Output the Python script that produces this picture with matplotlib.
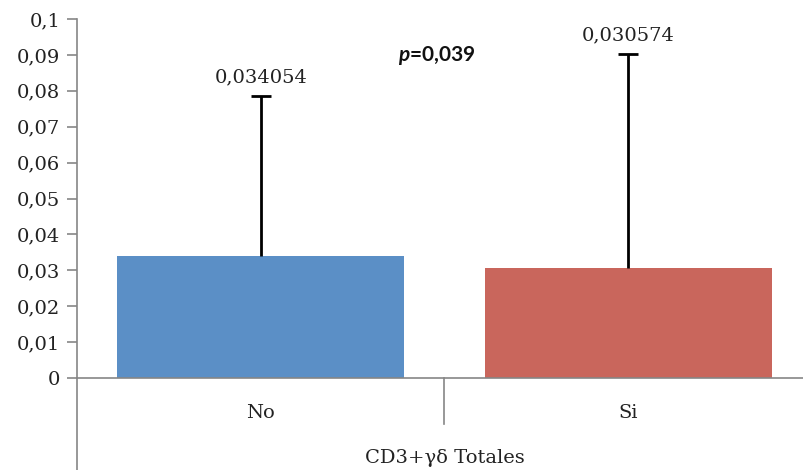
import matplotlib.pyplot as plt
from matplotlib.ticker import FuncFormatter
import matplotlib.transforms as mtransforms

categories = ["No", "Si"]
means = [0.034054, 0.030574]
upperErrors = [0.0445, 0.0597]
meanLabels = ["0,034054", "0,030574"]
groupLabel = "CD3+γδ Totales"
yTicks = [0, 0.01, 0.02, 0.03, 0.04, 0.05, 0.06, 0.07, 0.08, 0.09, 0.1]
colors = ["#5B8FC6", "#C9665C"]

plt.rcParams['font.family'] = ['DejaVu Serif']
plt.rcParams['mathtext.fontset'] = 'custom'
plt.rcParams['mathtext.bfit'] = 'Lato:italic:bold'
axisColor = "#868686"

fig = plt.figure(figsize=(8.04, 4.70), dpi=100)
ax = fig.add_axes([77 / 804, 92 / 470, 735 / 804, 359 / 470])

x = range(len(categories))
ax.bar(x, means, width=0.78, color=colors, zorder=2)
eb = ax.errorbar(x, means, yerr=[[0, 0], upperErrors], fmt='none', ecolor='black',
                 elinewidth=2, capsize=7, capthick=2, zorder=3)
# only the upper cap is shown
eb[1][0].set_visible(False)

# value labels above the error bars
for i, lab in enumerate(meanLabels):
    ax.annotate(lab, (i, means[i] + upperErrors[i]), xytext=(0, 7),
                textcoords='offset points', ha='center', va='bottom',
                fontsize=14, color='#222222')

ax.text(0.478, 0.0898, "$\\boldsymbol{p}$=0,039", ha='center', va='center', fontsize=15,
        fontweight='bold', family='Lato', color='#111111')

ax.set_xlim(-0.5, 1.5)
ax.set_ylim(0, 0.1)
ax.set_yticks(yTicks)
ax.yaxis.set_major_formatter(FuncFormatter(lambda v, p: ("%g" % v).replace('.', ',')))
ax.tick_params(axis='y', direction='out', length=7, color=axisColor, width=1.2,
               labelsize=14, pad=5, labelcolor='#222222')

ax.set_xticks(list(x))
ax.set_xticklabels(categories, fontsize=14, color='#222222')
ax.tick_params(axis='x', length=0, pad=19)

for side in ['top', 'right']:
    ax.spines[side].set_visible(False)
for side in ['left', 'bottom']:
    ax.spines[side].set_color(axisColor)
    ax.spines[side].set_linewidth(1.2)

# multi-level category axis: separators and group label
trans = mtransforms.blended_transform_factory(ax.transData, ax.transAxes)
ax.plot([-0.5, -0.5], [0, -0.27], transform=trans, color=axisColor, lw=1.2, clip_on=False)
ax.plot([0.5, 0.5], [0, -0.128], transform=trans, color=axisColor, lw=1.2, clip_on=False)
ax.text(0.5, -0.222, groupLabel, transform=trans, ha='center', va='center',
        fontsize=14, color='#222222')

fig.savefig("out.png", dpi=100)
